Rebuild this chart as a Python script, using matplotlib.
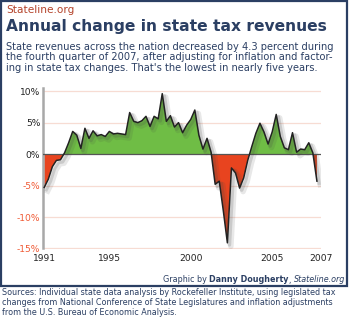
import numpy as np
import matplotlib.pyplot as plt
import matplotlib.patheffects as pe
from matplotlib.patches import Rectangle

# Quarterly real change in state tax revenue, 1991 Q1 .. 2007 Q4 (percent)
quarters = np.arange(68)
change = [
    -5.3, -4.0, -2.0, -1.0, -0.9, 0.2, 1.8, 3.6,      # 1991-1992
    3.0, 0.9, 4.1, 2.5, 3.7, 2.9, 3.1, 2.8,           # 1993-1994
    3.6, 3.2, 3.3, 3.2, 3.1, 6.6, 5.2, 5.0,           # 1995-1996
    5.3, 6.0, 4.4, 6.0, 5.6, 9.6, 5.2, 6.1,           # 1997-1998
    4.3, 5.0, 3.4, 4.6, 5.5, 7.0, 3.0, 0.8,           # 1999-2000
    2.5, 0.3, -4.8, -4.3, -9.0, -14.1, -2.2, -3.0,    # 2001-2002
    -5.4, -3.8, -1.0, 1.2, 3.3, 4.9, 3.5, 1.6,        # 2003-2004
    3.5, 6.3, 2.8, 1.0, 0.7, 3.4, 0.3, 0.8,           # 2005-2006
    0.7, 1.8, 0.2, -4.3,                              # 2007
]
year_labels = ['1991', '1995', '2000', '2005', '2007']
year_pos = [0, 16, 36, 56, 68]
y_ticks = [10, 5, 0, -5, -10, -15]

navy = '#2b3f63'
green = '#6fbd45'
red = '#e8441f'
neg_text = '#f05a35'

W, H = 349, 322
fig = plt.figure(figsize=(W / 100, H / 100), dpi=100)
fig.patch.set_facecolor('white')

# outer frame around the graphic
fig.patches.append(Rectangle((1 / W, 1 - 286 / H), 346 / W, 285 / H,
                             transform=fig.transFigure, fill=False,
                             edgecolor=navy, linewidth=1.6))

fig.text(6 / W, 1 - 10 / H, 'Stateline.org', color='#b4432a',
         fontsize=7.6, va='center', ha='left')
fig.text(6 / W, 1 - 27 / H, 'Annual change in state tax revenues', color=navy,
         fontsize=11.2, fontweight='bold', va='center', ha='left')
subtitle = ("State revenues across the nation decreased by 4.3 percent during\n"
            "the fourth quarter of 2007, after adjusting for inflation and factor-\n"
            "ing in state tax changes. That's the lowest in nearly five years.")
fig.text(6 / W, 1 - 41.5 / H, subtitle, color=navy, fontsize=7.1,
         va='top', ha='left', linespacing=1.12)

ax = fig.add_axes([43 / W, (H - 248.5) / H, (321 - 43) / W, (248.5 - 88) / H])
ax.set_xlim(-0.3, 68.0)
ax.set_ylim(-15, 10.5)

for v in y_ticks:
    if v != 0:
        ax.axhline(v, color='#f7dcd3', linewidth=0.9, zorder=0)

y = np.array(change, dtype=float)
ax.fill_between(quarters, y, 0, where=y >= 0, interpolate=True,
                color=green, linewidth=0, zorder=2)
ax.fill_between(quarters, y, 0, where=y <= 0, interpolate=True,
                color=red, linewidth=0, zorder=2)
ax.axhline(0, color='#555555', linewidth=0.9, zorder=3)
ax.plot(quarters, y, color='#222222', linewidth=1.1, zorder=4,
        path_effects=[pe.SimpleLineShadow(offset=(2.5, -2.5), shadow_color='#444444',
                                          alpha=0.12, linewidth=4.0),
                      pe.SimpleLineShadow(offset=(1.5, -1.5), shadow_color='#444444',
                                          alpha=0.18, linewidth=2.5),
                      pe.Normal()])

for s in ['top', 'right', 'bottom']:
    ax.spines[s].set_visible(False)
ax.spines['left'].set_color('#a8a8a8')
ax.spines['left'].set_linewidth(1.8)

ax.set_yticks(y_ticks)
ax.set_yticklabels([f'{v}%' for v in y_ticks], fontsize=6.6)
for lab, v in zip(ax.get_yticklabels(), y_ticks):
    lab.set_color(neg_text if v < 0 else '#222222')
ax.set_xticks(year_pos)
ax.set_xticklabels(year_labels, fontsize=6.6, color='#222222')
ax.tick_params(length=0, pad=2)
ax.tick_params(axis='x', pad=4)

# credit line, laid out right to left: italic site, bold name, plain prefix
fig.canvas.draw()
r = fig.canvas.get_renderer()
cy = 1 - 280 / H
x = 345 / W
for txt, kw in [('Stateline.org', dict(style='italic')),
                (', ', {}),
                ('Danny Dougherty', dict(fontweight='bold')),
                ('Graphic by ', {})]:
    t = fig.text(x, cy, txt, color=navy, fontsize=5.8, va='center', ha='right', **kw)
    x = t.get_window_extent(r).x0 / W

sources = ("Sources: Individual state data analysis by Rockefeller Institute, using legislated tax\n"
           "changes from National Conference of State Legislatures and inflation adjustments\n"
           "from the U.S. Bureau of Economic Analysis.")
fig.text(2 / W, 1 - 288 / H, sources, color=navy, fontsize=5.8,
         va='top', ha='left', linespacing=1.15)

fig.savefig('out.png', dpi=100)
